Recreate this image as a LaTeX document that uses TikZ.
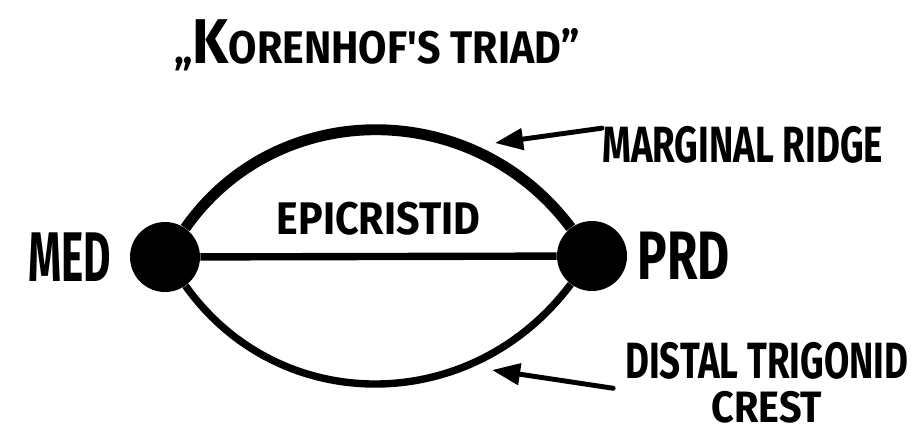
\documentclass[tikz,border=0pt]{standalone}
\usepackage{fontspec}
\newfontfamily\handfont{Fira Sans}[FakeStretch=0.72]
\newfontfamily\handwide{Fira Sans}[FakeStretch=0.9]
\newfontfamily\handslim{Fira Sans}[FakeStretch=0.6]
\usepackage{tikz}
\usetikzlibrary{positioning, arrows.meta}

\begin{document}
\begin{tikzpicture}[
  x=0.02cm, y=-0.02cm,
  cusp/.style={circle, fill=black, minimum size=1.4cm, inner sep=0pt},
  ridge/.style={line width=6.2pt},
  crest/.style={line width=4.2pt},
  pointer/.style={-{Triangle[length=16pt, width=12pt]}, line width=2.8pt, line cap=round},
  hand/.style={font=\handfont\bfseries\fontsize{#1}{#1}\selectfont, inner sep=0pt},
  handwide/.style={font=\handwide\bfseries\fontsize{#1}{#1}\selectfont, inner sep=0pt},
  handslim/.style={font=\handslim\bfseries\fontsize{#1}{#1}\selectfont, inner sep=0pt}
]
\useasboundingbox (0,0) rectangle (916,434);

\node[handwide=26] (title) at (377,45) {„{\fontsize{36}{36}\selectfont K}ORENHOF'S TRIAD”};

\node[cusp] (med) at (165,257) {};
\node[cusp] (prd) at (592,256) {};
\node[handslim=40, left=0.36cm of med] (medlbl) {MED};
\node[hand=39, right=0.2cm of prd] (prdlbl) {PRD};

\draw[crest] (med) -- node[handwide=26, above=0.36cm] (epi) {EPICRISTID} (prd);
\draw[ridge] (med) .. controls (277,97) and (473,97) .. (prd);
\draw[crest] (med) .. controls (279,417) and (471,417) .. (prd);

\node[hand=29, anchor=west] (margin) at (602,145) {MARGINAL RIDGE};
\node[hand=29, anchor=west, align=center] (distal) at (625,383)
  {DISTAL TRIGONID\\[-4pt]{\handwide\bfseries\fontsize{25}{25}\selectfont CREST}};

\coordinate (mtip) at (495,143);
\coordinate (dtip) at (492,370);
\draw[pointer] ([yshift=9.6pt]margin.west) -- (mtip);
\draw[pointer, shorten <=6.8pt] ([yshift=-4pt]distal.west) -- (dtip);

\end{tikzpicture}
\end{document}
